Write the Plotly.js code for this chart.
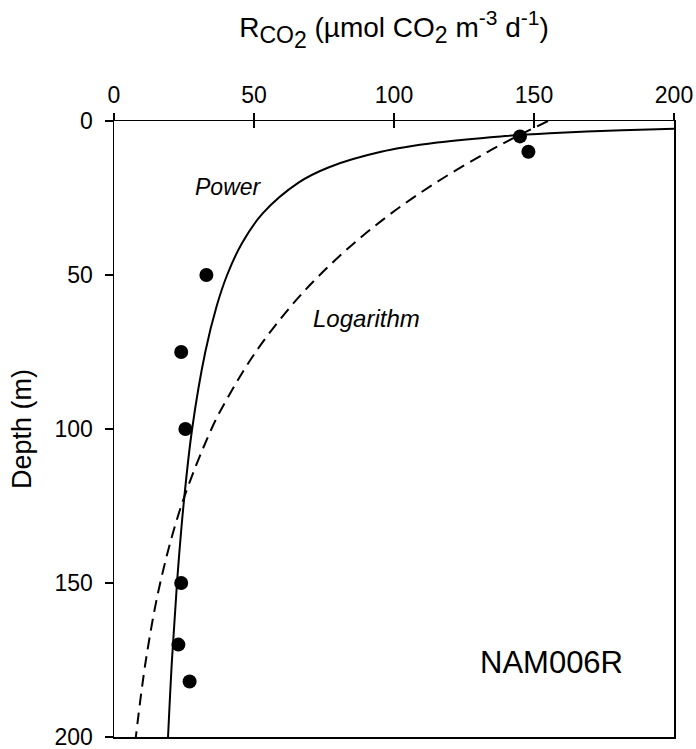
<!DOCTYPE html>
<html>
<head>
<meta charset="utf-8">
<script src="https://cdn.plot.ly/plotly-3.0.1.min.js"></script>
<style>html,body{margin:0;padding:0;background:#fff;}#chart{width:696px;height:749px;}</style>
</head>
<body>
<div id="chart"></div>
<script>
// Measured data points (R_CO2, depth)
var obsRate  = [145, 148, 33, 24, 25.5, 24, 23, 27];
var obsDepth = [5, 10, 50, 75, 100, 150, 170, 182];

// Power fit curve
var powerDepth = [2, 2.5, 3, 4, 5, 7, 10, 15, 20, 30, 40, 50, 60, 75, 100, 125, 150, 175, 200];
var powerRate  = [225.1, 200, 181.4, 155.6, 138.1, 115.4, 95.4, 76.8, 65.9, 53.1, 45.5, 40.4, 36.7, 32.6, 27.9, 24.8, 22.5, 20.7, 19.3];

// Logarithm fit curve
var logDepth = [0, 5, 10, 20, 30, 40, 50, 60, 75, 90, 100, 125, 150, 175, 200];
var logRate  = [155, 143.9, 133.5, 115.0, 99.0, 85.3, 73.5, 63.3, 50.6, 40.5, 34.8, 24.0, 16.5, 11.4, 7.8];

var xTicks = [0, 50, 100, 150, 200];
var yTicks = [0, 50, 100, 150, 200];

var FONT = "Liberation Sans, Arial, sans-serif";

var traces = [
  {x: powerRate, y: powerDepth, mode: 'lines', line: {color: '#000', width: 2, shape: 'spline'}, hoverinfo: 'skip'},
  {x: logRate, y: logDepth, mode: 'lines', line: {color: '#000', width: 2, dash: '12px,7px', shape: 'spline'}, hoverinfo: 'skip'},
  {x: obsRate, y: obsDepth, mode: 'markers', marker: {color: '#000', size: 14}, cliponaxis: false},
  {x: [0], y: [0], xaxis: 'x2', mode: 'markers', marker: {opacity: 0}, hoverinfo: 'skip'}
];

var layout = {
  width: 696, height: 749,
  margin: {l: 114, r: 22, t: 121, b: 12},
  paper_bgcolor: '#fff', plot_bgcolor: '#fff',
  showlegend: false,
  font: {family: FONT, color: '#000', size: 23},
  xaxis: {
    side: 'top', range: [0, 200], tickvals: xTicks, ticktext: xTicks.map(String),
    ticks: 'outside', ticklen: 7, tickwidth: 1.5, tickcolor: '#000',
    showline: true, linecolor: '#000', linewidth: 1.5, mirror: true,
    showgrid: false, zeroline: false, ticklabeloverflow: 'allow',
    tickfont: {family: FONT, size: 23, color: '#000'},
    title: {text: 'R<sub><span style="font-size:23px">CO<sub><span style="font-size:23px">2</span></sub></span></sub> (µmol CO<sub><span style="font-size:23px">2</span></sub> m<sup><span style="font-size:21px">-3</span></sup> d<sup><span style="font-size:21px">-1</span></sup>)',
            font: {family: FONT, size: 28, color: '#000'}, standoff: 36}
  },
  xaxis2: {
    overlaying: 'x', side: 'top', range: [0, 200], tickvals: xTicks,
    ticks: 'inside', ticklen: 7, tickwidth: 1.5, tickcolor: '#000',
    showticklabels: false, showline: false, showgrid: false, zeroline: false
  },
  yaxis: {
    range: [200, 0], tickvals: yTicks, ticktext: yTicks.map(String),
    ticks: 'outside', ticklen: 8, tickwidth: 1.5, tickcolor: '#000',
    showline: true, linecolor: '#000', linewidth: 1.5, mirror: true,
    showgrid: false, zeroline: false, ticklabelstandoff: 7, ticklabeloverflow: 'allow',
    tickfont: {family: FONT, size: 23, color: '#000'},
    title: {text: 'Depth (m)', font: {family: FONT, size: 27, color: '#000'}, standoff: 15}
  },
  annotations: [
    {x: 41, y: 21.4, xref: 'x', yref: 'y', text: '<i>Power</i>', showarrow: false, font: {family: FONT, size: 23, color: '#000'}},
    {x: 90, y: 64, xref: 'x', yref: 'y', text: '<i>Logarithm</i>', showarrow: false, font: {family: FONT, size: 24, color: '#000'}},
    {x: 156.3, y: 175.9, xref: 'x', yref: 'y', text: 'NAM006R', showarrow: false, font: {family: FONT, size: 31, color: '#000'}}
  ]
};

Plotly.newPlot('chart', traces, layout, {staticPlot: true, displayModeBar: false});
</script>
</body>
</html>
